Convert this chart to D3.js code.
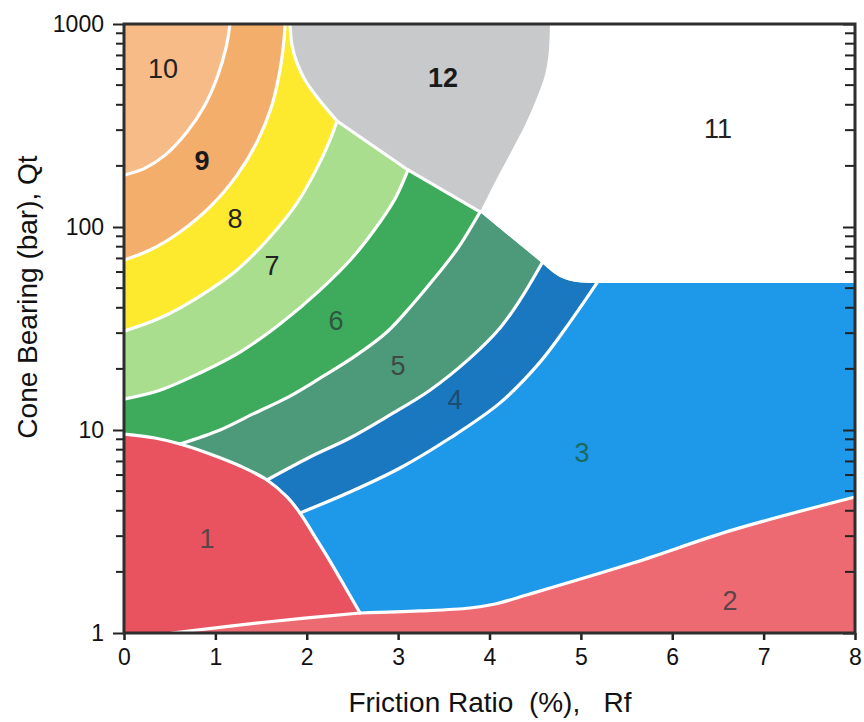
<!DOCTYPE html>
<html><head><meta charset="utf-8">
<script src="https://cdn.jsdelivr.net/npm/d3@7"></script>
<style>
html,body{margin:0;padding:0;background:#fff;}
svg{display:block;font-family:"Liberation Sans",Arial,sans-serif;}
</style></head><body>
<svg id="chart" width="864" height="722"></svg>
<script>
// ---- axis data ----
const xTicks = [0,1,2,3,4,5,6,7,8];
const yTicks = [1,10,100,1000];
const xDomain = [0,8];
const yDomain = [1,1000];
const topOfZone3 = 53;

// ---- zone boundaries [Rf %, Qt bar] ----
const B10_9 = [[0,180],[0.230,195],[0.449,226],[0.689,294],[0.886,399],[1.029,561],[1.116,762],[1.160,1000]];
const B9_8  = [[0,68.8],[0.285,77.0],[0.613,94.5],[0.941,125.5],[1.237,180],[1.466,268],[1.620,399],[1.707,593],[1.751,834],[1.762,1000]];
const B12L  = [[1.817,1000],[1.838,788],[1.893,643],[1.981,530],[2.112,437],[2.331,333]];
const B8_7  = [[0,30.7],[0.394,35.6],[0.832,45.7],[1.237,61.4],[1.598,89.3],[1.893,131],[2.112,195],[2.254,268],[2.331,333]];
const D     = [[2.331,333],[3.108,191],[3.896,118.6],[4.575,66.5]];
const T4    = [[4.575,66.5],[4.772,56.7],[4.958,53.6],[5.176,53]];
const B12R  = [[4.662,1000],[4.651,745],[4.607,561],[4.509,422],[4.389,318],[4.246,239],[4.082,174],[3.896,118.6]];
const B7_6  = [[0,14.2],[0.394,15.7],[0.832,19.1],[1.270,24.2],[1.707,33.3],[2.145,48.9],[2.506,71.2],[2.802,105.8],[2.977,140.6],[3.108,191]];
const R     = [[0,9.55],[0.339,9.13],[0.613,8.53],[0.941,7.62],[1.270,6.65],[1.565,5.67],[1.784,4.68],[1.926,3.90],[2.112,2.87],[2.254,2.26],[2.419,1.686],[2.583,1.255]];
const B6_5  = [[0.613,8.53],[1.051,10.0],[1.412,12.0],[1.817,14.7],[2.145,18.0],[2.528,23.1],[2.878,30.4],[3.152,41.3],[3.426,58.0],[3.655,78.8],[3.896,118.6]];
const B5_4  = [[1.565,5.67],[2.036,7.36],[2.473,9.13],[2.911,11.86],[3.348,15.7],[3.786,22.6],[4.115,31.8],[4.334,43.7],[4.575,66.5]];
const B4_3  = [[1.926,3.90],[2.473,4.95],[3.021,6.50],[3.568,9.13],[4.115,13.6],[4.553,21.6],[4.881,34.0],[5.176,53]];
const B1_2  = [[0.525,1],[1.565,1.133],[2.583,1.255]];
const B2_3  = [[2.583,1.255],[3.239,1.284],[3.786,1.328],[4.060,1.389],[4.443,1.556],[5.570,2.21],[6.665,3.22],[8,4.68]];

// ---- zone names, colours, label positions ----
const zoneNames  = ["1","2","3","4","5","6","7","8","9","10","11","12"];
const zoneColors = ["#e8535f","#ee6a73","#1e98e8","#1a78c0","#4c9a79","#3eaa5c","#a8de8e","#fdea2e","#f4ae6c","#f6bb86","#ffffff","#c8c9cb"];
const labelPos   = [[0.908,2.94],[6.632,1.45],[5.012,7.79],[3.622,14.1],[2.999,20.9],[2.320,34.8],[1.620,65],[1.215,111],[0.854,214],[0.427,607],[6.501,307],[3.491,548]];
const labelColors= ["#5a4448","#5a4448","#1c6a5c","#1d4d70","#3d4a44","#2d573e","#222","#222","#1a1a1a","#222","#222","#1a1a1a"];
const labelBold  = [false,false,false,false,false,false,false,false,true,false,false,true];

// ---- scales ----
const svg = d3.select("#chart");
const x = d3.scaleLinear().domain(xDomain).range([124,855]);
const y = d3.scaleLog().domain(yDomain).range([633,24]);

const lineS = d3.line().x(d=>x(d[0])).y(d=>y(d[1])).curve(d3.curveCatmullRom.alpha(0.5));
const lineL = d3.line().x(d=>x(d[0])).y(d=>y(d[1]));
const S = p => ({p, c:lineS});
const L = p => ({p, c:lineL});
const rev = a => a.slice().reverse();
const last = a => a[a.length-1];
function poly(segs){
  return segs.map((s,i)=>{const str=s.c(s.p); return i===0?str:"L"+str.slice(1);}).join("")+"Z";
}
const R6 = R.slice(0,3), R5 = R.slice(2,6), R4 = R.slice(5,8), R3 = R.slice(7);
const D0 = D.slice(0,2), D1 = D.slice(1,3), D2 = D.slice(2,4);
const [xa,xb] = xDomain, [ya,yb] = yDomain;

const zonePaths = [
  // 1 (drawn last, single smooth curve)
  poly([L([[xa,ya],R[0]]), S(R), S(rev(B1_2)), L([B1_2[0],[xa,ya]])]),
  // 2
  poly([S(B1_2), S(B2_3), L([last(B2_3),[xb,ya],B1_2[0]])]),
  // 3
  poly([L(R3), S(B2_3), L([last(B2_3),[xb,topOfZone3],last(B4_3)]), S(rev(B4_3))]),
  // 4
  poly([L(R4), S(B4_3), S(rev(T4)), S(rev(B5_4))]),
  // 5
  poly([L(R5), S(B5_4), L(rev(D2)), S(rev(B6_5))]),
  // 6
  poly([L(R6), S(B6_5), L(rev(D1)), S(rev(B7_6)), L([B7_6[0],R[0]])]),
  // 7
  poly([S(B7_6), L(rev(D0)), S(rev(B8_7))]),
  // 8
  poly([S(B8_7), S(rev(B12L)), L([B12L[0],last(B9_8)]), S(rev(B9_8))]),
  // 9
  poly([S(B9_8), L([last(B9_8),last(B10_9)]), S(rev(B10_9))]),
  // 10
  poly([S(B10_9), L([last(B10_9),[xa,yb],B10_9[0]])]),
  // 11
  poly([L([B12R[0],[xb,yb],[xb,topOfZone3],last(T4)]), S(rev(T4)), L(rev(D2)), S(rev(B12R))]),
  // 12
  poly([L([B12L[0],B12R[0]]), S(B12R), L(rev(D.slice(0,3))), S(rev(B12L))])
];
const drawOrder = [1,2,3,4,5,6,7,8,9,10,11,0];

svg.append("g").selectAll("path").data(drawOrder).join("path")
  .attr("d", i=>zonePaths[i]).attr("fill", i=>zoneColors[i]).attr("stroke","none");

// thin dark edge of zone 12
svg.append("path").attr("d", lineS(B12L)).attr("fill","none").attr("stroke","#8a8a8a").attr("stroke-width",1.2);

// white boundary lines
const whiteLines = [
  [B10_9,lineS],[B9_8,lineS],[B12L,lineS],[B8_7,lineS],[B7_6,lineS],[B6_5,lineS],[B5_4,lineS],[B4_3,lineS],
  [R,lineS],[B1_2,lineS],[B2_3,lineS],[D.slice(0,3),lineL]
];
svg.append("g").selectAll("path").data(whiteLines).join("path")
  .attr("d", d=>d[1](d[0])).attr("fill","none").attr("stroke","#fff")
  .attr("stroke-width",3.2).attr("stroke-linejoin","round").attr("stroke-linecap","round");

// zone labels
svg.append("g").selectAll("text").data(zoneNames).join("text")
  .attr("x",(d,i)=>x(labelPos[i][0])).attr("y",(d,i)=>y(labelPos[i][1]))
  .attr("text-anchor","middle").attr("dy","0.36em")
  .attr("font-size",27).attr("font-weight",(d,i)=>labelBold[i]?"bold":"normal")
  .attr("fill",(d,i)=>labelColors[i]).text(d=>d);

// minor ticks
const minor = [];
for (let dec=1; dec<1000; dec*=10) for (let k=2;k<=9;k++) minor.push(dec*k);

// left axis
const gl = svg.append("g").attr("transform",`translate(${x(xa)},0)`)
  .call(d3.axisLeft(y).tickValues(yTicks).tickFormat(d3.format("d")).tickSize(11).tickPadding(9));
gl.select(".domain").remove();
gl.selectAll(".tick line").attr("stroke","#222").attr("stroke-width",2);
gl.selectAll(".tick text").attr("font-size",23).attr("fill","#111").attr("font-family","Liberation Sans, Arial, sans-serif");
svg.append("g").selectAll("line").data(minor).join("line")
  .attr("x1",x(xa)-8).attr("x2",x(xa)).attr("y1",d=>y(d)).attr("y2",d=>y(d))
  .attr("stroke","#222").attr("stroke-width",2);

// right axis (inner ticks)
const gr = svg.append("g").attr("transform",`translate(${x(xb)},0)`)
  .call(d3.axisRight(y).tickValues(yTicks).tickFormat("").tickSize(-12));
gr.select(".domain").remove();
gr.selectAll(".tick line").attr("stroke","#222").attr("stroke-width",2);
svg.append("g").selectAll("line").data(minor).join("line")
  .attr("x1",x(xb)-10).attr("x2",x(xb)).attr("y1",d=>y(d)).attr("y2",d=>y(d))
  .attr("stroke","#222").attr("stroke-width",2);

// bottom axis
const gb = svg.append("g").attr("transform",`translate(0,${y(ya)})`)
  .call(d3.axisBottom(x).tickValues(xTicks).tickFormat(d3.format("d")).tickSize(7).tickPadding(9));
gb.select(".domain").remove();
gb.selectAll(".tick line").attr("stroke","#222").attr("stroke-width",2.5);
gb.selectAll(".tick text").attr("font-size",23).attr("fill","#111").attr("font-family","Liberation Sans, Arial, sans-serif");

// frame
svg.append("rect").attr("x",x(xa)).attr("y",y(yb)).attr("width",x(xb)-x(xa)).attr("height",y(ya)-y(yb))
  .attr("fill","none").attr("stroke","#2e2e2e").attr("stroke-width",3);

// axis titles
svg.append("text").attr("x",490).attr("y",712).attr("text-anchor","middle")
  .attr("font-size",28).attr("fill","#111").style("white-space","pre")
  .text("Friction Ratio  (%),   Rf");
svg.append("text").attr("transform","translate(37,297) rotate(-90)").attr("text-anchor","middle")
  .attr("font-size",28).attr("fill","#111").style("white-space","pre")
  .text("Cone Bearing (bar), Qt");
</script>
</body></html>
